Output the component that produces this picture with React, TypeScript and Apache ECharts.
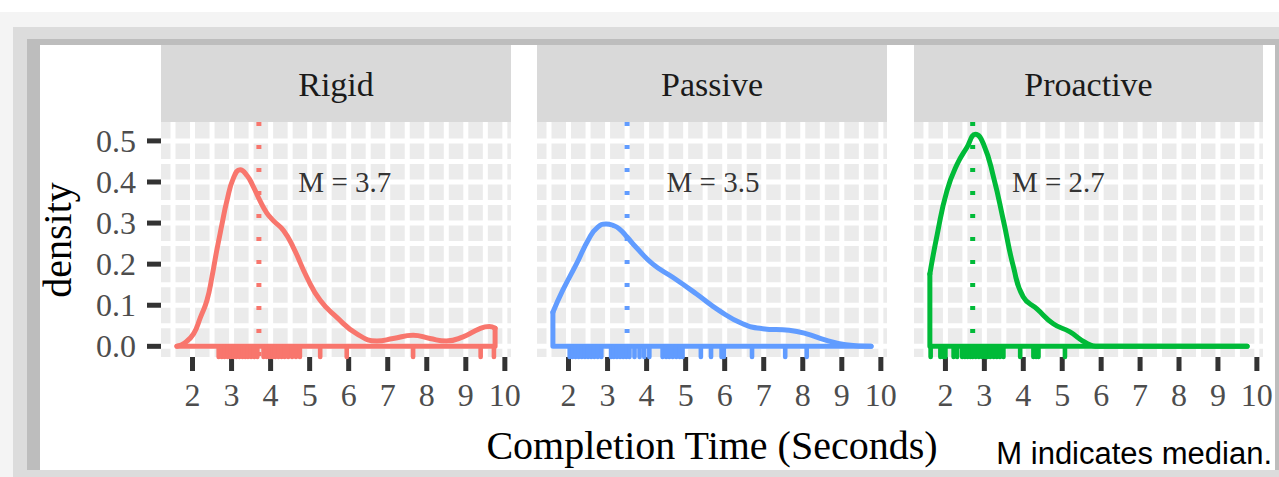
import React, { useEffect, useRef } from 'react';
import * as echarts from 'echarts';

// ---- data ----
const groups = ['Rigid', 'Passive', 'Proactive'];
const colors = ['#F8766D', '#619CFF', '#00BA38'];
const medians = [3.7, 3.5, 2.7];

const rigidX = [1.6, 1.8, 2.03, 2.2, 2.37, 2.5, 2.62, 2.75, 2.88, 3.05, 3.22, 3.4, 3.55, 3.73, 3.9, 4.07, 4.33, 4.58, 4.93, 5.27, 5.69, 6.2, 6.72, 7.14, 7.65, 8.08, 8.5, 8.93, 9.36, 9.6, 9.75];
const rigidD = [0.0, 0.008, 0.031, 0.07, 0.112, 0.17, 0.233, 0.295, 0.354, 0.41, 0.43, 0.415, 0.39, 0.354, 0.325, 0.306, 0.282, 0.241, 0.168, 0.112, 0.071, 0.031, 0.013, 0.019, 0.027, 0.019, 0.013, 0.023, 0.043, 0.048, 0.044];

const passiveX = [1.6, 1.85, 2.2, 2.54, 2.75, 2.96, 3.15, 3.3, 3.5, 3.73, 4.16, 4.67, 5.27, 5.86, 6.46, 6.97, 7.65, 8.08, 8.59, 9.1, 9.75];
const passiveD = [0.083, 0.136, 0.2, 0.265, 0.29, 0.298, 0.294, 0.286, 0.266, 0.241, 0.2, 0.168, 0.128, 0.087, 0.055, 0.043, 0.039, 0.031, 0.015, 0.004, 0.0];

const proactiveX = [1.6, 1.79, 2.04, 2.3, 2.55, 2.77, 2.98, 3.24, 3.49, 3.75, 4.0, 4.35, 4.77, 5.2, 5.62, 5.96, 7.0, 8.0, 9.0, 9.75];
const proactiveD = [0.176, 0.273, 0.379, 0.443, 0.484, 0.516, 0.492, 0.41, 0.306, 0.192, 0.12, 0.091, 0.055, 0.035, 0.008, 0.0, 0.0, 0.0, 0.0, 0.0];

const rigidRug = [2.67, 2.75, 2.82, 2.9, 2.98, 3.05, 3.12, 3.2, 3.28, 3.35, 3.42, 3.5, 3.58, 3.66, 3.82, 3.9, 3.98, 4.05, 4.12, 4.2, 4.28, 4.36, 4.45, 4.55, 4.65, 4.75, 5.27, 5.95, 7.65, 9.38, 9.72];
const passiveRug = [2.03, 2.1, 2.18, 2.26, 2.34, 2.42, 2.5, 2.58, 2.66, 2.75, 2.84, 3.09, 3.16, 3.24, 3.32, 3.4, 3.48, 3.56, 3.69, 3.82, 3.94, 4.07, 4.41, 4.5, 4.58, 4.67, 4.76, 4.85, 4.92, 5.39, 5.65, 5.92, 5.98, 6.7, 7.55, 8.1];
const proactiveRug = [1.62, 1.87, 1.94, 2.0, 2.21, 2.3, 2.43, 2.5, 2.57, 2.64, 2.7, 2.78, 2.86, 2.94, 3.02, 3.08, 3.15, 3.24, 3.32, 3.4, 3.49, 3.92, 4.26, 4.33, 4.39, 5.07];

const xTicks = [2, 3, 4, 5, 6, 7, 8, 9, 10];
const xMinor = [1.5, 2.5, 3.5, 4.5, 5.5, 6.5, 7.5, 8.5, 9.5];
const yTicks = [0, 0.1, 0.2, 0.3, 0.4, 0.5];
const yMinor = [0.05, 0.15, 0.25, 0.35, 0.45];

const curvesX = [rigidX, passiveX, proactiveX];
const curvesD = [rigidD, passiveD, proactiveD];
const rugs = [rigidRug, passiveRug, proactiveRug];

const X_MIN = 1.1925;
const X_MAX = 10.1575;
const Y_MIN = -0.026;
const Y_MAX = 0.546;

const SERIF = '"Liberation Serif", "Times New Roman", serif';
const SANS = '"Liberation Sans", Arial, sans-serif';

export default function App() {
  const ref = useRef<HTMLDivElement>(null);
  useEffect(() => {
    if (!ref.current) return;
    const chart = echarts.init(ref.current, undefined, { renderer: 'svg' });

    const lefts = [161, 537, 914];
    const widths = [350, 350, 349];
    const top = 122;
    const height = 235;
    const TICK_LEN = 14;
    const TICK_W = 5;
    const LW = 5;

    const grids = lefts.map((l, i) => ({ left: l, top, width: widths[i], height, show: false }));

    const xAxes = lefts.map((_, i) => ({
      type: 'value',
      gridIndex: i,
      min: X_MIN,
      max: X_MAX,
      axisLine: { show: false },
      splitLine: { show: false },
      axisTick: { show: false },
      axisLabel: { customValues: xTicks, fontFamily: SERIF, fontSize: 32, color: '#4d4d4d', margin: 22 },
    }));
    const yAxes = lefts.map((_, i) => ({
      type: 'value',
      gridIndex: i,
      min: Y_MIN,
      max: Y_MAX,
      axisLine: { show: false },
      splitLine: { show: false },
      axisTick: { show: false },
      axisLabel: {
        show: i === 0,
        customValues: yTicks,
        formatter: (v: number) => v.toFixed(1),
        fontFamily: SERIF,
        fontSize: 32,
        color: '#4d4d4d',
        margin: 25,
      },
    }));

    const series: any[] = [];
    groups.forEach((g, i) => {
      // grid lines (vertical)
      series.push({
        type: 'custom',
        xAxisIndex: i,
        yAxisIndex: i,
        z: 1,
        silent: true,
        data: [...xTicks, ...xMinor].map((v) => [v, 0]),
        renderItem: (_p: any, api: any) => {
          const x = api.value(0);
          const a = api.coord([x, Y_MIN]);
          const b = api.coord([x, Y_MAX]);
          return { type: 'line', shape: { x1: a[0], y1: a[1], x2: b[0], y2: b[1] }, style: { stroke: '#ffffff', lineWidth: 5 } };
        },
      });
      // grid lines (horizontal)
      series.push({
        type: 'custom',
        xAxisIndex: i,
        yAxisIndex: i,
        z: 1,
        silent: true,
        data: [...yTicks, ...yMinor].map((v) => [X_MIN, v]),
        renderItem: (_p: any, api: any) => {
          const y = api.value(1);
          const a = api.coord([X_MIN, y]);
          const b = api.coord([X_MAX, y]);
          return { type: 'line', shape: { x1: a[0], y1: a[1], x2: b[0], y2: b[1] }, style: { stroke: '#ffffff', lineWidth: 5 } };
        },
      });
      // x axis ticks
      series.push({
        type: 'custom',
        xAxisIndex: i,
        yAxisIndex: i,
        z: 2,
        silent: true,
        clip: false,
        data: xTicks.map((v) => [v, Y_MIN]),
        renderItem: (_p: any, api: any) => {
          const a = api.coord([api.value(0), Y_MIN]);
          return {
            type: 'rect',
            shape: { x: a[0] - TICK_W / 2, y: a[1], width: TICK_W, height: TICK_LEN },
            style: { fill: '#333333' },
          };
        },
      });
      if (i === 0) {
        series.push({
          type: 'custom',
          xAxisIndex: i,
          yAxisIndex: i,
          z: 2,
          silent: true,
          clip: false,
          data: yTicks.map((v) => [X_MIN, v]),
          renderItem: (_p: any, api: any) => {
            const a = api.coord([X_MIN, api.value(1)]);
            return {
              type: 'rect',
              shape: { x: a[0] - TICK_LEN, y: a[1] - TICK_W / 2, width: TICK_LEN, height: TICK_W },
              style: { fill: '#333333' },
            };
          },
        });
      }
      const xs = curvesX[i];
      const ds = curvesD[i];
      const n = xs.length;
      // density curve
      series.push({
        type: 'line',
        xAxisIndex: i,
        yAxisIndex: i,
        z: 4,
        symbol: 'none',
        smooth: 0.5,
        data: xs.map((x, k) => [x, ds[k]]),
        lineStyle: { color: colors[i], width: LW, cap: 'round', join: 'round' },
      });
      // outline: sides + baseline
      series.push({
        type: 'line',
        xAxisIndex: i,
        yAxisIndex: i,
        z: 4,
        symbol: 'none',
        data: [[xs[0], ds[0]], [xs[0], 0], [xs[n - 1], 0], [xs[n - 1], ds[n - 1]]],
        lineStyle: { color: colors[i], width: LW, cap: 'round', join: 'round' },
      });
      // median line
      series.push({
        type: 'line',
        xAxisIndex: i,
        yAxisIndex: i,
        z: 3,
        symbol: 'none',
        data: [[medians[i], Y_MAX], [medians[i], Y_MIN]],
        lineStyle: { color: colors[i], width: 5, type: [4, 19] },
      });
      // rug
      series.push({
        type: 'custom',
        xAxisIndex: i,
        yAxisIndex: i,
        z: 5,
        silent: true,
        clip: false,
        data: rugs[i].map((v) => [v, 0]),
        renderItem: (_p: any, api: any) => {
          const x = api.value(0);
          const a = api.coord([x, Y_MIN]);
          const b = api.coord([x, 0]);
          return {
            type: 'line',
            shape: { x1: a[0], y1: a[1], x2: b[0], y2: b[1] },
            style: { stroke: colors[i], lineWidth: 4.6, lineCap: 'round' },
          };
        },
      });
      // median annotation
      series.push({
        type: 'scatter',
        xAxisIndex: i,
        yAxisIndex: i,
        z: 6,
        symbolSize: 0,
        data: [[medians[i] + 2.2, 0.4]],
        label: {
          show: true,
          position: 'inside',
          formatter: () => `M = ${medians[i]}`,
          fontFamily: SERIF,
          fontSize: 29,
          color: '#000000',
        },
      });
    });

    const graphic: any[] = [
      { type: 'rect', z: -10, shape: { x: 0, y: 0, width: 1279, height: 477 }, style: { fill: '#ffffff' } },
      { type: 'rect', z: -10, shape: { x: 0, y: 12, width: 1279, height: 465 }, style: { fill: '#f4f4f4' } },
      { type: 'rect', z: -10, shape: { x: 13, y: 27, width: 1266, height: 450 }, style: { fill: '#dcdcdc' } },
      { type: 'rect', z: -10, shape: { x: 27, y: 39, width: 1252, height: 431 }, style: { fill: '#bdbdbd' } },
      { type: 'rect', z: -10, shape: { x: 40, y: 45, width: 1235, height: 425 }, style: { fill: '#ffffff' } },
    ];
    lefts.forEach((l, i) => {
      graphic.push({ type: 'rect', z: -5, shape: { x: l, y: top, width: widths[i], height }, style: { fill: '#ebebeb' } });
      graphic.push({ type: 'rect', z: -5, shape: { x: l, y: 45, width: widths[i], height: 77 }, style: { fill: '#d9d9d9' } });
      graphic.push({
        type: 'text',
        z: -4,
        x: l + widths[i] / 2,
        y: 84,
        style: { text: groups[i], font: `34px ${SERIF}`, fill: '#1a1a1a', textAlign: 'center', textVerticalAlign: 'middle' },
      });
    });
    graphic.push({
      type: 'text',
      x: 57,
      y: 240,
      rotation: Math.PI / 2,
      style: { text: 'density', font: `40px ${SERIF}`, fill: '#000000', textAlign: 'center', textVerticalAlign: 'middle' },
    });
    graphic.push({
      type: 'text',
      x: 712,
      y: 445,
      style: { text: 'Completion Time (Seconds)', font: `40px ${SERIF}`, fill: '#000000', textAlign: 'center', textVerticalAlign: 'middle' },
    });
    graphic.push({
      type: 'text',
      x: 1272,
      y: 453,
      style: { text: 'M indicates median.', font: `31px ${SANS}`, fill: '#000000', textAlign: 'right', textVerticalAlign: 'middle' },
    });

    chart.setOption({
      animation: false,
      backgroundColor: '#ffffff',
      grid: grids,
      xAxis: xAxes,
      yAxis: yAxes,
      series,
      graphic,
    });
    return () => chart.dispose();
  }, []);
  return <div ref={ref} style={{ position: 'fixed', left: 0, top: 0, width: 1279, height: 477 }} />;
}
